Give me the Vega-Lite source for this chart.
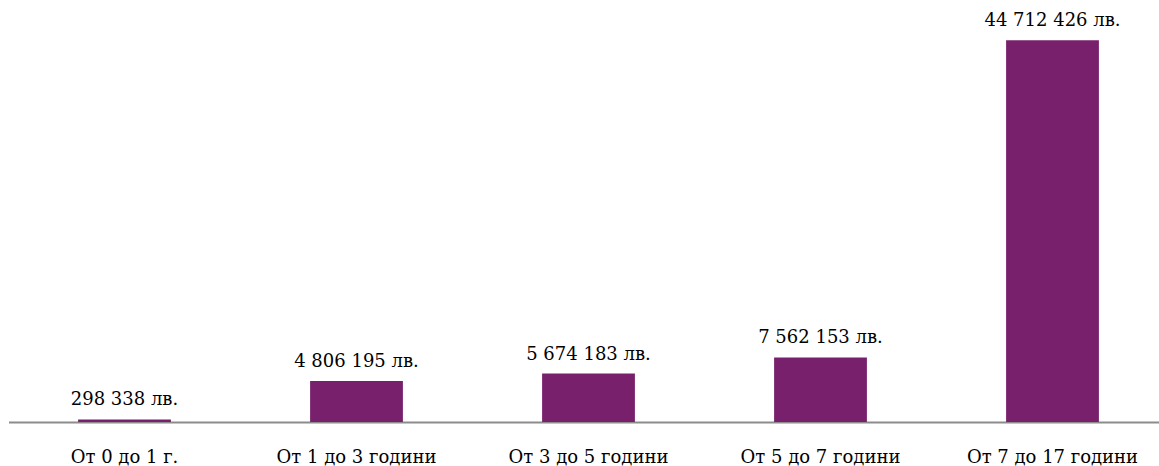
{
  "$schema": "https://vega.github.io/schema/vega-lite/v6.json",
  "autosize": "none",
  "width": 1160,
  "height": 422,
  "padding": {"left": 8.5, "top": 0, "right": 0, "bottom": 44},
  "background": "white",
  "config": {"view": {"stroke": null}},
  "data": {
    "values": [
      {"group": "От 0 до 1 г.", "amount": 298338, "label": "298 338 лв."},
      {"group": "От 1 до 3 години", "amount": 4806195, "label": "4 806 195 лв."},
      {"group": "От 3 до 5 години", "amount": 5674183, "label": "5 674 183 лв."},
      {"group": "От 5 до 7 години", "amount": 7562153, "label": "7 562 153 лв."},
      {"group": "От 7 до 17 години", "amount": 44712426, "label": "44 712 426 лв."}
    ]
  },
  "encoding": {
    "x": {
      "field": "group",
      "type": "nominal",
      "sort": null,
      "scale": {"paddingInner": 0.6, "paddingOuter": 0.3},
      "axis": {
        "title": null,
        "labelAngle": 0,
        "labelFont": "DejaVu Serif",
        "labelFontSize": 18,
        "labelColor": "#000000",
        "labelBaseline": "alphabetic",
        "labelPadding": 40,
        "ticks": false,
        "domainColor": "#8c8c8c",
        "domainWidth": 2,
        "grid": false
      }
    },
    "y": {
      "field": "amount",
      "type": "quantitative",
      "scale": {"domain": [0, 49433000], "nice": false, "zero": true},
      "axis": null
    }
  },
  "layer": [
    {"mark": {"type": "bar", "color": "#78206c"}},
    {
      "mark": {
        "type": "text",
        "baseline": "alphabetic",
        "dy": -14,
        "font": "DejaVu Serif",
        "fontSize": 18,
        "color": "#000000"
      },
      "encoding": {"text": {"field": "label"}}
    }
  ]
}
